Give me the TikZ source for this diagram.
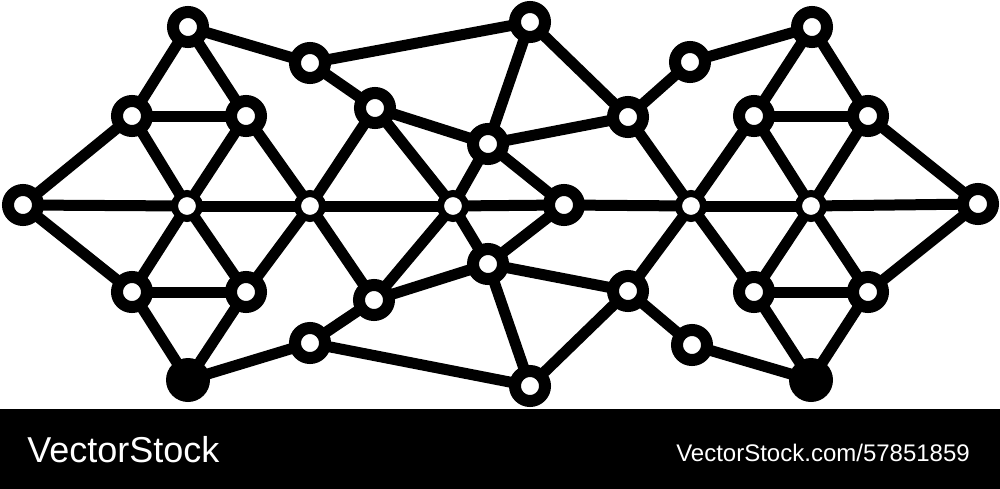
\documentclass[tikz,border=0pt]{standalone}
\usepackage{fontspec}
\setmainfont{Liberation Sans}
\usetikzlibrary{backgrounds}
\begin{document}
\begin{tikzpicture}[x=0.75pt,y=-0.75pt,
  bignode/.style={circle,draw=black,fill=white,line width=9pt,minimum size=22.5pt,inner sep=0pt},
  smallnode/.style={circle,draw=black,fill=white,line width=5.25pt,minimum size=18.75pt,inner sep=0pt},
  solidnode/.style={circle,fill=black,minimum size=33pt,inner sep=0pt},
  link/.style={line width=8.25pt,line cap=round,line join=round},
  banner/.style={text=white,font=\fontsize{27pt}{30pt}\selectfont,anchor=base west,inner sep=0pt},
  bannersmall/.style={text=white,font=\fontsize{18pt}{20pt}\selectfont,anchor=base west,inner sep=0pt}]
\useasboundingbox (0,0) rectangle (1000,489);
% left cluster
\node[bignode] (a1) at (188,27) {};
\node[bignode] (a2) at (132,116) {};
\node[bignode] (a3) at (246,116) {};
\node[bignode] (a4) at (23,205) {};
\node[smallnode] (a5) at (187,206) {};
\node[smallnode] (a6) at (310,206) {};
\node[bignode] (a7) at (132,292) {};
\node[bignode] (a8) at (246,292) {};
\node[solidnode] (a9) at (188,380) {};
\node[bignode] (a10) at (310,63) {};
\node[bignode] (a11) at (310,343) {};
% middle
\node[bignode] (b1) at (530,22) {};
\node[bignode] (b2) at (375,108) {};
\node[bignode] (b3) at (488,144) {};
\node[bignode] (b4) at (628,117) {};
\node[smallnode] (b5) at (453,206) {};
\node[bignode] (b6) at (564,205) {};
\node[bignode] (b7) at (488,264) {};
\node[bignode] (b8) at (374,300) {};
\node[bignode] (b9) at (628,291) {};
\node[bignode] (b10) at (530,386) {};
% right cluster
\node[bignode] (c1) at (812,27) {};
\node[bignode] (c2) at (690,62) {};
\node[bignode] (c3) at (754,116) {};
\node[bignode] (c4) at (868,116) {};
\node[smallnode] (c5) at (691,206) {};
\node[smallnode] (c6) at (811,206) {};
\node[bignode] (c7) at (978,204) {};
\node[bignode] (c8) at (754,292) {};
\node[bignode] (c9) at (868,292) {};
\node[bignode] (c10) at (692,345) {};
\node[solidnode] (c11) at (811,380) {};
\begin{pgfonlayer}{background}
\fill[white] (0,0) rectangle (1000,489);
\foreach \p/\q in {a1/a2,a1/a3,a1/a10,a2/a3,a2/a4,a2/a5,a3/a5,a3/a6,
  a4/a5,a5/a6,a4/a7,a5/a7,a5/a8,a6/a8,a7/a8,a7/a9,a8/a9,a9/a11,
  a6/b2,a6/b8,a6/b5,a10/b1,a10/b2,a11/b8,a11/b10,
  b2/b3,b2/b5,b1/b3,b1/b4,b3/b4,b3/b6,b3/b5,b5/b6,b5/b7,b7/b6,b5/b8,
  b8/b7,b7/b9,b7/b10,b10/b9,b6/c5,b4/c2,b4/c5,b9/c5,b9/c10,
  c2/c1,c1/c3,c1/c4,c3/c4,c3/c5,c3/c6,c4/c6,c4/c7,c5/c6,c6/c7,
  c5/c8,c6/c8,c6/c9,c8/c9,c7/c9,c8/c11,c9/c11,c10/c11}
  \draw[link] (\p.center) -- (\q.center);
\end{pgfonlayer}
% bottom banner
\fill[black] (0,409) rectangle (1000,489);
\node[banner] (brand) at (27,462) {VectorStock};
\node[bannersmall] (ref) at (676,461) {VectorStock.com/57851859};
\end{tikzpicture}
\end{document}
